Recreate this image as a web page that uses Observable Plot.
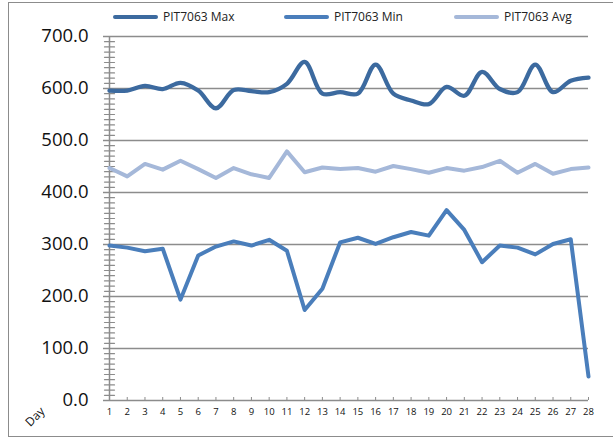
<!DOCTYPE html>
<html>
<head>
<meta charset="utf-8">
<script src="https://cdn.jsdelivr.net/npm/d3@7"></script>
<script src="https://cdn.jsdelivr.net/npm/@observablehq/plot@0.6"></script>
<style>
  html, body { margin: 0; padding: 0; background: #fff; }
  #wrap { position: relative; width: 613px; height: 442px; overflow: hidden; font-family: "Open Sans", sans-serif; }
  #frame { position: absolute; left: 8px; top: 2px; width: 640px; height: 435px; border: 1.5px solid #8c8c8c; box-sizing: border-box; }
  #chart { position: absolute; left: 0; top: 0; }
  #legend { position: absolute; left: 0; top: 0; width: 613px; height: 30px; font-size: 12px; color: #222; }
  .item { position: absolute; top: 8px; display: flex; align-items: center; }
  .sw { width: 45px; height: 4px; border-radius: 2px; margin-right: 5px; }
  #daylab { position: absolute; left: 24px; top: 408px; font-size: 12px; transform: rotate(-45deg); transform-origin: center; color: #111; }
</style>
</head>
<body>
<div id="wrap">
  <div id="frame"></div>
  <div id="chart"></div>
  <div id="legend"></div>
  <div id="daylab">Day</div>
</div>
<script>
const days = d3.range(1, 29);
const seriesNames = ["PIT7063 Max", "PIT7063 Min", "PIT7063 Avg"];
const seriesColors = ["#3c6a9f", "#4a7ebb", "#a5b8d9"];
const maxValues = [596, 596, 605, 599, 611, 596, 562, 597, 595, 593, 609, 651, 590, 593,
                   590, 646, 590, 577, 570, 603, 586, 632, 599, 593, 646, 593, 615, 621];
const minValues = [298, 294, 287, 292, 194, 279, 296, 306, 298, 309, 288, 174, 215, 304,
                   313, 301, 314, 324, 317, 366, 328, 266, 298, 294, 281, 301, 310, 46];
const avgValues = [447, 431, 455, 444, 461, 445, 428, 447, 435, 428, 479, 439, 448, 445,
                   447, 440, 451, 445, 438, 447, 442, 449, 461, 438, 455, 436, 445, 448];
const yMajorTicks = [0, 100, 200, 300, 400, 500, 600, 700];
const yMinorTicks = d3.range(0, 701, 10).filter(v => v % 100 !== 0);

const rows = (vals) => days.map((d, i) => ({day: d, value: vals[i]}));

const tickShape = {
  draw(context, l) {
    context.moveTo(0, 0);
    context.lineTo(0, -l);
  }
};

const chart = Plot.plot({
  width: 613,
  height: 442,
  marginLeft: 109,
  marginRight: 25,
  marginTop: 36,
  marginBottom: 42,
  style: {fontFamily: "Open Sans, sans-serif", background: "transparent", overflow: "visible"},
  x: {type: "linear", domain: [1, 28]},
  y: {domain: [0, 700]},
  marks: [
    Plot.ruleY(yMajorTicks, {stroke: "#8c8c8c", strokeWidth: 1.5}),
    Plot.ruleX([1], {y1: 0, y2: 700, stroke: "#8c8c8c", strokeWidth: 1.5}),
    Plot.axisY({ticks: yMajorTicks, tickSize: 6, tickPadding: 15, tickFormat: d => d.toFixed(1), label: null,
                fontSize: 18.5, stroke: "#8c8c8c", strokeWidth: 1.5, fill: "#111", strokeOpacity: 1}),
    Plot.vector(yMinorTicks, {x: () => 1, y: d => d, length: 10, rotate: 90, anchor: "middle",
                shape: tickShape, stroke: "#8c8c8c", strokeWidth: 1.2}),
    Plot.axisX({ticks: days, tickSize: 3, dy: -3, tickFormat: () => "", label: null, stroke: "#8c8c8c", strokeWidth: 1}),
    Plot.axisX({ticks: days, tickSize: 0, tickPadding: 8, tickFormat: d => String(d), label: null, fontSize: 9.5, fill: "#111"}),
    Plot.lineY(rows(avgValues), {x: "day", y: "value", stroke: seriesColors[2], strokeWidth: 4}),
    Plot.lineY(rows(minValues), {x: "day", y: "value", stroke: seriesColors[1], strokeWidth: 4}),
    Plot.lineY(rows(maxValues), {x: "day", y: "value", stroke: seriesColors[0], strokeWidth: 4.3, curve: "catmull-rom"})
  ]
});
document.getElementById("chart").appendChild(chart);

const legendX = [113, 284, 454];
const legend = document.getElementById("legend");
seriesNames.forEach((name, i) => {
  const it = document.createElement("div");
  it.className = "item";
  it.style.left = legendX[i] + "px";
  const sw = document.createElement("div");
  sw.className = "sw";
  sw.style.background = seriesColors[i];
  const tx = document.createElement("span");
  tx.textContent = name;
  it.appendChild(sw);
  it.appendChild(tx);
  legend.appendChild(it);
});
</script>
</body>
</html>
